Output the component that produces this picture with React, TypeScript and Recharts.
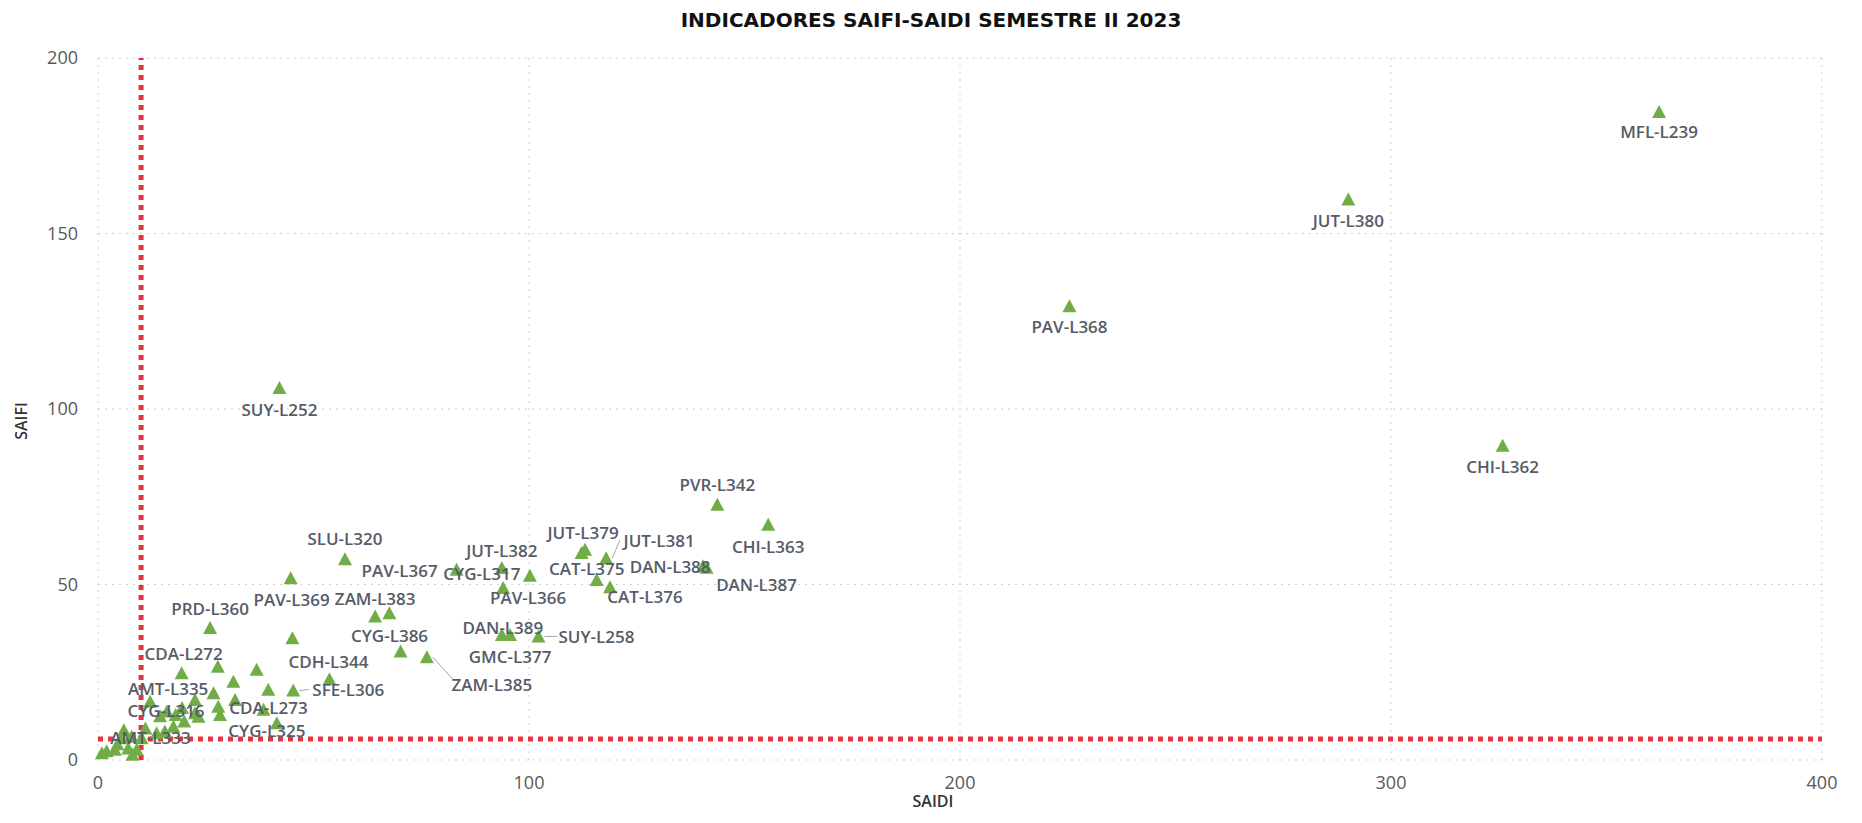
import {
  ScatterChart,
  Scatter,
  XAxis,
  YAxis,
  CartesianGrid,
  ReferenceLine,
} from "recharts";

// circuitos (nombre vacío = sin etiqueta)
const NAMES = [
  "MFL-L239", "JUT-L380", "PAV-L368", "CHI-L362", "SUY-L252", "PVR-L342",
  "CHI-L363", "JUT-L379", "JUT-L381", "JUT-L382", "PAV-L367", "CYG-L317",
  "PAV-L366", "CAT-L375", "CAT-L376", "DAN-L388", "DAN-L387", "SLU-L320",
  "PAV-L369", "ZAM-L383", "CYG-L386", "ZAM-L385", "DAN-L389", "GMC-L377",
  "SUY-L258", "PRD-L360", "CDH-L344", "SFE-L306", "CDA-L272", "AMT-L335",
  "CYG-L316", "AMT-L333", "CDA-L273", "CYG-L325",
  "", "", "", "", "", "", "", "", "", "", "", "", "", "", "", "", "",
  "", "", "", "", "", "", "", "", "", "", "", "", "", "", "",
];

const SAIDI = [
  362.2, 290.1, 225.4, 325.9, 42.1, 143.7,
  155.5, 113.0, 117.9, 93.7, 83.2, 100.2,
  94.0, 115.7, 118.8, 140.4, 141.2, 57.3,
  44.7, 64.3, 70.2, 76.3, 93.7, 95.6,
  102.2, 26.0, 53.7, 45.3, 19.4, 12.1,
  14.4, 10.1, 38.4, 41.5,
  112.2, 67.6, 45.1, 27.8, 36.8, 31.4, 39.5, 26.8, 31.8, 27.9, 28.3, 23.3,
  22.5, 22.5, 18.0, 16.0, 19.5, 11.0, 13.6, 15.5, 17.5, 20.0, 7.8, 5.5,
  0.9, 3.9, 7.0, 9.0, 2.0, 6.0, 8.0, 4.5,
];

const SAIFI = [
  184.6, 159.7, 129.3, 89.5, 106.0, 72.7,
  67.0, 59.9, 57.5, 54.7, 54.2, 52.5,
  49.0, 51.3, 49.2, 55.2, 54.8, 57.2,
  51.8, 40.9, 30.9, 29.3, 35.6, 35.6,
  35.2, 37.6, 23.0, 19.8, 24.7, 16.6,
  12.5, 6.2, 14.3, 10.5,
  59.0, 41.8, 34.7, 26.6, 25.7, 22.3, 20.0, 19.0, 17.1, 15.2, 12.8, 12.3,
  17.1, 13.3, 12.8, 13.8, 14.8, 9.0, 7.6, 8.1, 9.5, 11.0, 6.6, 6.2,
  1.9, 2.9, 3.3, 2.9, 2.5, 8.5, 1.5, 4.5,
];

const X_TICKS = [0, 100, 200, 300, 400];
const Y_TICKS = [0, 50, 100, 150, 200];
const SAIDI_LIMIT = 10;
const SAIFI_LIMIT = 6;

// desplazamiento de cada etiqueta respecto a su punto [dx, dy, línea guía]
const LABEL_OFFSETS: Record<string, [number, number, boolean?]> = {
  "MFL-L239": [0, 19],
  "JUT-L380": [0, 21],
  "PAV-L368": [0, 20],
  "CHI-L362": [0, 21],
  "SUY-L252": [0, 22],
  "PVR-L342": [0, -20],
  "CHI-L363": [0, 22],
  "JUT-L379": [-2, -17],
  "JUT-L381": [53, -18, true],
  "JUT-L382": [0, -18],
  "PAV-L367": [-57, 1],
  "CYG-L317": [-48, -2],
  "PAV-L366": [25, 9],
  "CAT-L375": [-10, -11],
  "CAT-L376": [35, 9],
  "DAN-L388": [-33, 0],
  "DAN-L387": [50, 17],
  "SLU-L320": [0, -21],
  "PAV-L369": [1, 21],
  "ZAM-L383": [0, -18],
  "CYG-L386": [-11, -16],
  "ZAM-L385": [65, 27, true],
  "DAN-L389": [1, -8],
  "GMC-L377": [0, 21],
  "SUY-L258": [58, 0, true],
  "PRD-L360": [0, -20],
  "CDH-L344": [-1, -18],
  "SFE-L306": [55, -1, true],
  "CDA-L272": [2, -20],
  "AMT-L335": [18, -13],
  "CYG-L316": [6, -6],
  "AMT-L333": [9, -1],
  "CDA-L273": [5, -2],
  "CYG-L325": [-10, 7],
};

const points = NAMES.map((name, i) => ({
  name,
  saidi: SAIDI[i],
  saifi: SAIFI[i],
}));

const GREEN = "#70AD47";
const RED = "#E8333F";

function Triangle(props: any) {
  const { cx, cy } = props;
  return (
    <polygon
      points={`${cx},${cy - 7} ${cx + 7},${cy + 6} ${cx - 7},${cy + 6}`}
      fill={GREEN}
    />
  );
}

function PointLabel(props: any) {
  const { cx, cy, payload } = props;
  const name = payload?.name;
  if (!name) return <g />;
  const [dx, dy, leader] = LABEL_OFFSETS[name] || [0, 19];
  const lx = cx + dx;
  const ly = cy + dy;
  const half = name.length * 4.9;
  const side = dx >= 0 ? 1 : -1;
  return (
    <g>
      {leader && (
        <line
          x1={cx + side * 6}
          y1={cy}
          x2={lx - side * half}
          y2={ly - (dy > 10 ? 5 : 0)}
          stroke="#a6a6a6"
          strokeWidth={1}
        />
      )}
      <text
        x={lx}
        y={ly}
        textAnchor="middle"
        dominantBaseline="central"
        fill="#565b68"
        fontFamily="'Open Sans', sans-serif"
        fontWeight={600}
        fontSize={17}
      >
        {name}
      </text>
    </g>
  );
}

const tickStyle = {
  fill: "#595959",
  fontFamily: "'Open Sans', sans-serif",
  fontSize: 18,
};

const axisTitle = {
  position: "absolute" as const,
  fontFamily: "'Open Sans', sans-serif",
  fontWeight: 600,
  fontSize: 16,
  lineHeight: "20px",
  color: "#333",
  width: 100,
  textAlign: "center" as const,
};

export default function App() {
  return (
    <div style={{ position: "relative", width: 1846, height: 805 }}>
      <ScatterChart
        width={1846}
        height={805}
        margin={{ top: 50, right: 32, bottom: 0, left: 0 }}
      >
        <CartesianGrid strokeDasharray="2 5" stroke="#cfcfcf" />
        <XAxis
          type="number"
          dataKey="saidi"
          domain={[0, 400]}
          ticks={X_TICKS}
          height={53}
          axisLine={false}
          tickLine={false}
          tickMargin={10}
          tick={tickStyle}
        />
        <YAxis
          type="number"
          dataKey="saifi"
          domain={[0, 200]}
          ticks={Y_TICKS}
          width={90}
          axisLine={false}
          tickLine={false}
          tickMargin={14}
          tick={tickStyle}
        />
        <ReferenceLine
          x={SAIDI_LIMIT}
          stroke={RED}
          strokeWidth={5}
          strokeDasharray="5 5"
        />
        <ReferenceLine
          y={SAIFI_LIMIT}
          stroke={RED}
          strokeWidth={5}
          strokeDasharray="5 5"
        />
        <Scatter data={points} shape={Triangle} isAnimationActive={false} />
        <Scatter data={points} shape={PointLabel} isAnimationActive={false} />
      </ScatterChart>
      <div
        style={{
          position: "absolute",
          top: 0,
          left: 0,
          width: 1846,
          textAlign: "center",
          lineHeight: "24px",
          fontFamily: "'DejaVu Sans', sans-serif",
          fontWeight: 700,
          fontSize: 20,
          color: "#111",
        }}
      >
        INDICADORES SAIFI-SAIDI SEMESTRE II 2023
      </div>
      <div style={{ ...axisTitle, left: 875, top: 783 }}>SAIDI</div>
      <div
        style={{
          ...axisTitle,
          left: -37,
          top: 403,
          transform: "rotate(-90deg)",
        }}
      >
        SAIFI
      </div>
    </div>
  );
}
